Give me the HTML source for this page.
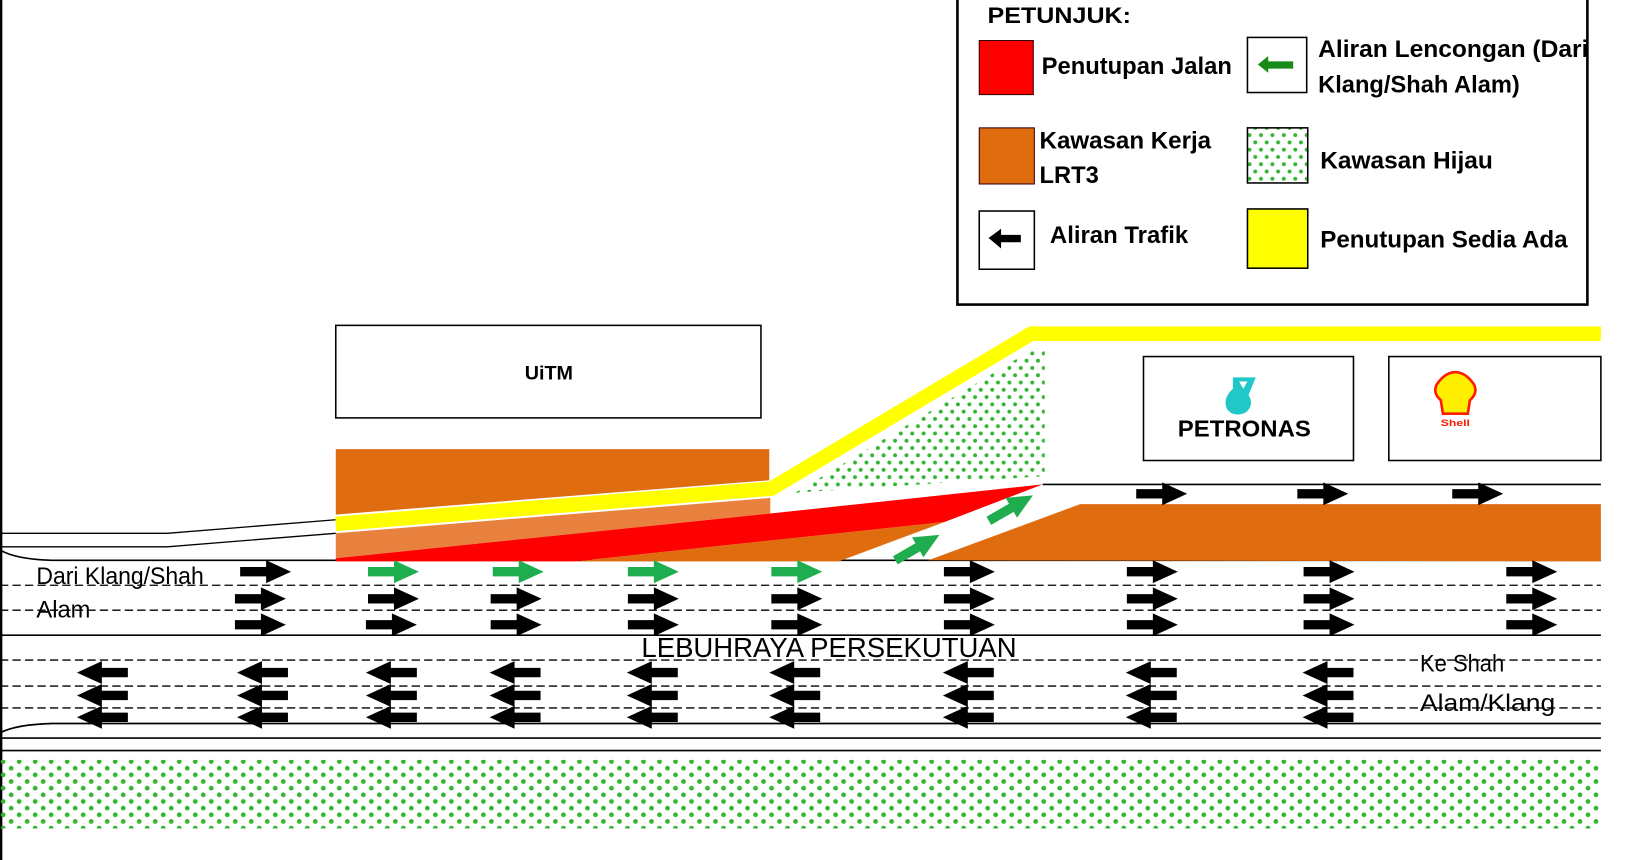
<!DOCTYPE html>
<html><head><meta charset="utf-8"><style>
html,body{margin:0;padding:0;background:#fff;width:1630px;height:860px;overflow:hidden}
svg{display:block}
.n{font-family:"Liberation Sans Narrow","Liberation Sans",sans-serif}
.b{font-family:"Liberation Sans Narrow","Liberation Sans",sans-serif;font-weight:bold}
</style></head><body>
<svg width="1630" height="860" viewBox="0 0 1568 827.3" preserveAspectRatio="none" xmlns="http://www.w3.org/2000/svg">
<defs>
<pattern id="dots" width="15.4" height="12.8" patternUnits="userSpaceOnUse">
<circle cx="3" cy="3" r="2.3" fill="#33b533"/><circle cx="10.7" cy="9.4" r="2.3" fill="#33b533"/>
</pattern>
<pattern id="dots2" width="11" height="14" patternUnits="userSpaceOnUse">
<circle cx="3" cy="4" r="1.9" fill="#33b533"/><circle cx="8.5" cy="11" r="1.9" fill="#33b533"/>
</pattern>
<path id="ar" d="M-24,-4.5H1V-11L25,0L1,11V4.5H-24Z"/>
</defs>
<rect width="1568" height="828" fill="#fff"/>
<line x1="1" y1="0" x2="1" y2="828" stroke="#000" stroke-width="2.5"/>

<g stroke="#000" fill="none">
<path d="M0,513H161L323,500" stroke-width="1.3"/>
<path d="M0,526H161L323,513" stroke-width="1.3"/>
<path d="M0,529Q15,538 50,539H1540" stroke-width="1.6"/>
<g stroke-width="1.3" stroke-dasharray="8 4">
<line x1="0" y1="563" x2="1540" y2="563"/>
<line x1="0" y1="587" x2="1540" y2="587"/>
<line x1="0" y1="635" x2="1540" y2="635"/>
<line x1="0" y1="660" x2="1540" y2="660"/>
<line x1="0" y1="681" x2="1540" y2="681"/>
</g>
<line x1="0" y1="611" x2="1540" y2="611" stroke-width="1.6"/>
<path d="M0,705Q15,697 50,696H1540" stroke-width="1.6"/>
<line x1="0" y1="710" x2="1540" y2="710" stroke-width="1.6"/>
<line x1="0" y1="722" x2="1540" y2="722" stroke-width="1.6"/>
<line x1="1003" y1="466" x2="1540" y2="466" stroke-width="1.6"/>
</g>

<rect x="0" y="731" width="1540" height="66" fill="url(#dots)"/>
<polygon points="765,474 995,335 1005,335 1005,458" fill="url(#dots2)"/>

<rect x="323" y="313" width="409" height="89" fill="#fff" stroke="#000" stroke-width="1.5"/>
<text x="528" y="365" class="b" font-size="19" text-anchor="middle">UiTM</text>

<polygon points="323,432 740,432 740,462 323,495" fill="#e06c10"/>
<polygon points="323,513 741,479 741,494 323,537" fill="#e8813e"/>
<polygon points="553,540 909,502 807,540" fill="#e06c10"/>
<polygon points="323,537 741,494 1003,466 909,502 553,540 323,540" fill="#ff0000"/>
<polyline points="323,504 742,470 992,321 1540,321" fill="none" stroke="#ffff00" stroke-width="14"/>
<polygon points="893,539 1039,485 1540,485 1540,540" fill="#e06c10"/>

<rect x="1100" y="343" width="202" height="100" fill="#fff" stroke="#000" stroke-width="1.5"/>
<path d="M1186,363 L1208,363 L1201,380 Q1207,390 1198,397 Q1186,402 1180,393 Q1176,383 1186,374 Z" fill="#22c8c8"/>
<path d="M1192,367 L1200,367 L1196,374Z" fill="#fff"/>
<text x="1197" y="420" class="b" font-size="22" text-anchor="middle" textLength="128" lengthAdjust="spacingAndGlyphs">PETRONAS</text>
<rect x="1336" y="343" width="204" height="100" fill="#fff" stroke="#000" stroke-width="1.5"/>
<path d="M1388,398 L1386,385 Q1378,378 1382,370 Q1390,358 1400,358 Q1410,358 1418,370 Q1422,378 1414,385 L1412,398 Z" fill="#ffee00" stroke="#ff1a00" stroke-width="2.5"/>
<text x="1400" y="410" class="b" font-size="9" fill="#ff1a00" text-anchor="middle" textLength="28" lengthAdjust="spacingAndGlyphs">Shell</text>

<g fill="#000">
<use href="#ar" x="255" y="550"/>
<use href="#ar" x="932" y="550"/><use href="#ar" x="1108" y="550"/><use href="#ar" x="1278" y="550"/><use href="#ar" x="1473" y="550"/>
<use href="#ar" x="250" y="576"/><use href="#ar" x="378" y="576"/><use href="#ar" x="496" y="576"/><use href="#ar" x="628" y="576"/><use href="#ar" x="766" y="576"/><use href="#ar" x="932" y="576"/><use href="#ar" x="1108" y="576"/><use href="#ar" x="1278" y="576"/><use href="#ar" x="1473" y="576"/>
<use href="#ar" x="250" y="601"/><use href="#ar" x="376" y="601"/><use href="#ar" x="496" y="601"/><use href="#ar" x="628" y="601"/><use href="#ar" x="766" y="601"/><use href="#ar" x="932" y="601"/><use href="#ar" x="1108" y="601"/><use href="#ar" x="1278" y="601"/><use href="#ar" x="1473" y="601"/>
<use href="#ar" x="1117" y="475"/><use href="#ar" x="1272" y="475"/><use href="#ar" x="1421" y="475"/>
<g transform="scale(-1,1)">
<use href="#ar" x="-99" y="647"/><use href="#ar" x="-253" y="647"/><use href="#ar" x="-377" y="647"/><use href="#ar" x="-496" y="647"/><use href="#ar" x="-628" y="647"/><use href="#ar" x="-765" y="647"/><use href="#ar" x="-932" y="647"/><use href="#ar" x="-1108" y="647"/><use href="#ar" x="-1278" y="647"/>
<use href="#ar" x="-99" y="669"/><use href="#ar" x="-253" y="669"/><use href="#ar" x="-377" y="669"/><use href="#ar" x="-496" y="669"/><use href="#ar" x="-628" y="669"/><use href="#ar" x="-765" y="669"/><use href="#ar" x="-932" y="669"/><use href="#ar" x="-1108" y="669"/><use href="#ar" x="-1278" y="669"/>
<use href="#ar" x="-99" y="690"/><use href="#ar" x="-253" y="690"/><use href="#ar" x="-377" y="690"/><use href="#ar" x="-496" y="690"/><use href="#ar" x="-628" y="690"/><use href="#ar" x="-765" y="690"/><use href="#ar" x="-932" y="690"/><use href="#ar" x="-1108" y="690"/><use href="#ar" x="-1278" y="690"/>
</g>
</g>
<g fill="#1fae4f">
<use href="#ar" x="378" y="550"/><use href="#ar" x="498" y="550"/><use href="#ar" x="628" y="550"/><use href="#ar" x="766" y="550"/>
<use href="#ar" transform="translate(882,527) rotate(-30)"/>
<use href="#ar" transform="translate(972,489) rotate(-30)"/>
</g>

<text x="35" y="562" class="n" font-size="23" textLength="161" lengthAdjust="spacingAndGlyphs">Dari Klang/Shah</text>
<text x="35" y="594" class="n" font-size="23" textLength="52" lengthAdjust="spacingAndGlyphs">Alam</text>
<text x="617" y="632" class="n" font-size="27" textLength="361" lengthAdjust="spacingAndGlyphs">LEBUHRAYA PERSEKUTUAN</text>
<text x="1366" y="646" class="n" font-size="23" textLength="81" lengthAdjust="spacingAndGlyphs">Ke Shah</text>
<text x="1366" y="684" class="n" font-size="23" textLength="130" lengthAdjust="spacingAndGlyphs">Alam/Klang</text>

<rect x="921" y="-3" width="606" height="296" fill="#fff" stroke="#000" stroke-width="2.5"/>
<text x="950" y="22" class="b" font-size="21" textLength="138" lengthAdjust="spacingAndGlyphs">PETUNJUK:</text>
<rect x="942" y="39" width="52" height="52" fill="#ff0000" stroke="#300" stroke-width="1"/>
<text x="1002" y="71" class="b" font-size="23" textLength="183" lengthAdjust="spacingAndGlyphs">Penutupan Jalan</text>
<rect x="1200" y="36" width="57" height="53" fill="#fff" stroke="#000" stroke-width="1.5"/>
<path d="M1210,62 L1220,54 V59 H1244 V66 H1220 V70 Z" fill="#178a17"/>
<text x="1268" y="55" class="b" font-size="23" textLength="260" lengthAdjust="spacingAndGlyphs">Aliran Lencongan (Dari</text>
<text x="1268" y="89" class="b" font-size="23" textLength="194" lengthAdjust="spacingAndGlyphs">Klang/Shah Alam)</text>
<rect x="942" y="123" width="53" height="54" fill="#e06c10" stroke="#300" stroke-width="1"/>
<text x="1000" y="143" class="b" font-size="23" textLength="165" lengthAdjust="spacingAndGlyphs">Kawasan Kerja</text>
<text x="1000" y="176" class="b" font-size="23" textLength="57" lengthAdjust="spacingAndGlyphs">LRT3</text>
<rect x="1200" y="123" width="58" height="53" fill="url(#dots2)" stroke="#000" stroke-width="1.5"/>
<text x="1270" y="162" class="b" font-size="23" textLength="166" lengthAdjust="spacingAndGlyphs">Kawasan Hijau</text>
<rect x="942" y="203" width="53" height="56" fill="#fff" stroke="#000" stroke-width="1.5"/>
<path d="M951,229 L963,220 V226 H982 V233 H963 V239 Z" fill="#000"/>
<text x="1010" y="234" class="b" font-size="23" textLength="133" lengthAdjust="spacingAndGlyphs">Aliran Trafik</text>
<rect x="1200" y="201" width="58" height="57" fill="#ffff00" stroke="#000" stroke-width="1.5"/>
<text x="1270" y="238" class="b" font-size="23" textLength="238" lengthAdjust="spacingAndGlyphs">Penutupan Sedia Ada</text>
</svg>
</body></html>
